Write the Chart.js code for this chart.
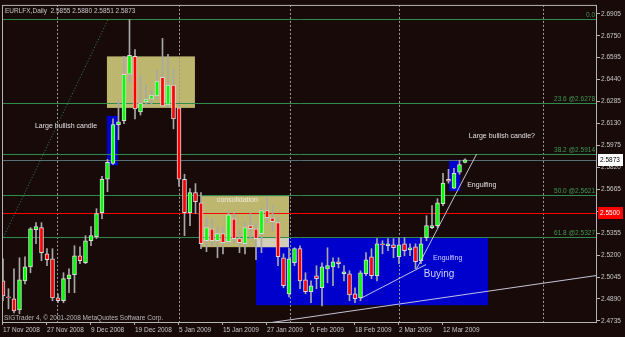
<!DOCTYPE html>
<html>
<head>
<meta charset="utf-8">
<title>EURLFX Daily</title>
<script src="https://cdn.jsdelivr.net/npm/chart.js@4.4.1/dist/chart.umd.min.js"></script>
<style>
  html, body { margin: 0; padding: 0; background: #190a0a; }
  canvas { display: block; }
</style>
</head>
<body>
<canvas id="chart" width="625" height="337"></canvas>
<script>
// ---- Data (bar index 0 = 17 Nov 2008) ----
const xTickIdx = [0, 8, 16, 24, 32, 40, 48, 56, 64, 72, 80];
const xTickLabels = ['17 Nov 2008', '27 Nov 2008', '9 Dec 2008', '19 Dec 2008', '5 Jan 2009',
  '15 Jan 2009', '27 Jan 2009', '6 Feb 2009', '18 Feb 2009', '2 Mar 2009', '12 Mar 2009'];
const yTicks = [2.4735, 2.4890, 2.5045, 2.5200, 2.5355, 2.5510, 2.5665, 2.5820,
  2.5975, 2.6130, 2.6285, 2.6440, 2.6595, 2.6750, 2.6905];

const opens = [
  2.5018, 2.4905, 2.4891, 2.4813, 2.5018, 2.5117, 2.5379, 2.5394, 2.5209, 2.5174,
  2.4898, 2.4877, 2.5033, 2.5061, 2.5195, 2.5146, 2.5301, 2.5330, 2.5500, 2.5736,
  2.5847, 2.6122, 2.6149, 2.6478, 2.6605, 2.6211, 2.6282, 2.6302, 2.6324, 2.6457,
  2.6261, 2.6402, 2.6240, 2.5736, 2.5500, 2.5641, 2.5570, 2.5301, 2.5386, 2.5301,
  2.5351, 2.5294, 2.5457, 2.5316, 2.5280, 2.5408, 2.5386, 2.5351, 2.5514, 2.5464,
  2.5429, 2.5181, 2.4926, 2.5146, 2.5245, 2.5025, 2.4941, 2.5054, 2.4969, 2.5103,
  2.5117, 2.5153, 2.5068, 2.5068, 2.4926, 2.4898, 2.5068, 2.5188, 2.5054, 2.5280,
  2.5266, 2.5273, 2.5188, 2.5280, 2.5238, 2.5259, 2.5160, 2.5323, 2.5394, 2.5408,
  2.5563, 2.5736, 2.5673, 2.5785, 2.5855
];
const highs = [
  2.5174, 2.4962, 2.5103, 2.5181, 2.5188, 2.5394, 2.5429, 2.5429, 2.5245, 2.5245,
  2.4926, 2.5075, 2.5103, 2.5266, 2.5259, 2.5337, 2.5401, 2.5528, 2.5756, 2.5876,
  2.6163, 2.6296, 2.6605, 2.6865, 2.6653, 2.6471, 2.6402, 2.6366, 2.6507, 2.6731,
  2.6619, 2.6514, 2.6247, 2.5771, 2.5670, 2.5705, 2.5641, 2.5464, 2.5457, 2.5401,
  2.5394, 2.5514, 2.5493, 2.5372, 2.5429, 2.5493, 2.5422, 2.5528, 2.5613, 2.5549,
  2.5464, 2.5209, 2.5252, 2.5252, 2.5266, 2.5075, 2.5018, 2.5125, 2.5146, 2.5252,
  2.5181, 2.5181, 2.5125, 2.5089, 2.4969, 2.5089, 2.5217, 2.5245, 2.5316, 2.5301,
  2.5316, 2.5316, 2.5323, 2.5323, 2.5280, 2.5280, 2.5323, 2.5478, 2.5549, 2.5599,
  2.5778, 2.5806, 2.5813, 2.5870, 2.5880
];
const lows = [
  2.4877, 2.4820, 2.4792, 2.4785, 2.4997, 2.5075, 2.5280, 2.5160, 2.5125, 2.4877,
  2.4863, 2.4863, 2.4934, 2.4934, 2.5139, 2.5139, 2.5266, 2.5316, 2.5457, 2.5648,
  2.5840, 2.6015, 2.6128, 2.6422, 2.6163, 2.6190, 2.6261, 2.6268, 2.6302, 2.6247,
  2.6247, 2.6092, 2.5686, 2.5337, 2.5408, 2.5493, 2.5245, 2.5224, 2.5266, 2.5181,
  2.5209, 2.5280, 2.5280, 2.5217, 2.5209, 2.5316, 2.5167, 2.5217, 2.5429, 2.5372,
  2.5125, 2.4969, 2.4905, 2.5125, 2.4962, 2.4926, 2.4863, 2.4962, 2.4841, 2.5004,
  2.4983, 2.5110, 2.5018, 2.4877, 2.4863, 2.4877, 2.5054, 2.5033, 2.5018, 2.5209,
  2.5231, 2.5181, 2.5139, 2.5195, 2.5195, 2.5103, 2.5139, 2.5301, 2.5386, 2.5394,
  2.5549, 2.5708, 2.5670, 2.5771, 2.5851
];
const closes = [
  2.4912, 2.4898, 2.4806, 2.5025, 2.5117, 2.5386, 2.5401, 2.5217, 2.5167, 2.4898,
  2.4877, 2.5033, 2.5061, 2.5195, 2.5160, 2.5301, 2.5337, 2.5493, 2.5736, 2.5855,
  2.6122, 2.6142, 2.6478, 2.6612, 2.6233, 2.6275, 2.6302, 2.6331, 2.6430, 2.6254,
  2.6402, 2.6163, 2.5736, 2.5500, 2.5641, 2.5577, 2.5280, 2.5394, 2.5301, 2.5351,
  2.5287, 2.5485, 2.5316, 2.5287, 2.5394, 2.5386, 2.5316, 2.5514, 2.5464, 2.5436,
  2.5188, 2.4983, 2.5174, 2.5245, 2.5018, 2.4941, 2.4983, 2.5033, 2.5117, 2.5125,
  2.5153, 2.5139, 2.5082, 2.4919, 2.4891, 2.5075, 2.5167, 2.5054, 2.5280, 2.5273,
  2.5280, 2.5252, 2.5273, 2.5231, 2.5252, 2.5153, 2.5280, 2.5408, 2.5408, 2.5570,
  2.5708, 2.5722, 2.5778, 2.5840, 2.5873
];

// ---- Chart objects (bar index / price) ----
const fibLabels = ['0.0', '23.6 @2.6278', '38.2 @2.5914', '50.0 @2.5621', '61.8 @2.5327'];
const fibPrices = [2.6865, 2.6278, 2.5914, 2.5621, 2.5327];
const fibBase = [[-0.4, 2.5287], [19.1, 2.6865]];
const redLevel = 2.5500;
const lastPrice = 2.5873;
const monthSeps = [9.8, 32, 52.2, 72, 98.2];
// zones: [fromBar, toBar, lowPrice, highPrice]
const khakiZones = [[18.9, 34.9, 2.6240, 2.6604], [36.0, 52.0, 2.5256, 2.5617]];
const blueZones = [[18.9, 20.9, 2.5834, 2.6184], [46.0, 88.2, 2.4846, 2.5320], [81.1, 83.15, 2.5652, 2.5873]];
// trend lines: [bar0, price0, bar1, price1]
const trendLines = [[48.2, 2.4720, 108, 2.5056], [65.1, 2.4895, 76.9, 2.5133], [75.2, 2.5103, 86.1, 2.5913]];
const notes = [
  { text: 'Large bullish candle', bar: 5.8, price: 2.6114 },
  { text: 'Large bullish candle?', bar: 84.7, price: 2.6044 },
  { text: 'Engulfing', bar: 84.4, price: 2.5693 },
  { text: 'Engulfing', bar: 78.2, price: 2.5182, tone: 'blue' },
  { text: 'Buying', bar: 76.5, price: 2.5063, tone: 'blue', big: true },
  { text: 'consolidation', bar: 38.9, price: 2.5588, tone: 'khaki' }
];

const BG = '#190a0a';
const FRAME = '#b4b4b4';
const FONT = "'Liberation Sans', Arial, sans-serif";

// ---- Candle datasets ----
const wickData = highs.map((h, i) => ({ x: i, y: [lows[i], h] }));
const bodyData = opens.map((o, i) => ({ x: i, y: [Math.min(o, closes[i]), Math.max(o, closes[i])] }));
const bodyColors = opens.map((o, i) => closes[i] >= o ? '#00ff00' : '#ff0000');

// ---- Drawing of MT4 objects ----
const mt4Objects = {
  id: 'mt4Objects',
  beforeDraw(chart) {
    const { ctx, width, height } = chart;
    ctx.save();
    ctx.fillStyle = BG;
    ctx.fillRect(0, 0, width, height);
    ctx.restore();
  },
  beforeDatasetsDraw(chart) {
    const { ctx, chartArea: a, scales: { x, y } } = chart;
    ctx.save();
    ctx.beginPath();
    ctx.rect(a.left, a.top, a.right - a.left, a.bottom - a.top);
    ctx.clip();

    const zone = (z, col) => {
      const x0 = x.getPixelForValue(z[0]), x1 = x.getPixelForValue(z[1]);
      const y0 = y.getPixelForValue(z[3]), y1 = y.getPixelForValue(z[2]);
      ctx.fillStyle = col;
      ctx.fillRect(x0, y0, x1 - x0, y1 - y0);
    };
    blueZones.forEach(z => zone(z, '#0000cc'));
    khakiZones.forEach(z => zone(z, '#bdb66e'));
    // where the boxes cross MT4 shows a pale mix
    khakiZones.forEach(k => blueZones.forEach(b => {
      const o = [Math.max(k[0], b[0]), Math.min(k[1], b[1]), Math.max(k[2], b[2]), Math.min(k[3], b[3])];
      if (o[0] < o[1] && o[2] < o[3]) zone(o, '#d2cfb8');
    }));

    // month separators
    ctx.strokeStyle = '#9a9a9a';
    ctx.lineWidth = 1;
    ctx.setLineDash([2, 2]);
    monthSeps.forEach(v => {
      const px = Math.round(x.getPixelForValue(v)) + 0.5;
      ctx.beginPath();
      ctx.moveTo(px, a.top);
      ctx.lineTo(px, a.bottom);
      ctx.stroke();
    });
    ctx.setLineDash([]);

    const hline = (p, col) => {
      const py = Math.round(y.getPixelForValue(p)) + 0.5;
      ctx.strokeStyle = col;
      ctx.beginPath();
      ctx.moveTo(a.left, py);
      ctx.lineTo(a.right, py);
      ctx.stroke();
    };
    fibPrices.forEach(p => hline(p, '#2f8a4c'));
    hline(lastPrice, '#56707a');
    hline(redLevel, '#ff0000');

    // fibo base line
    ctx.strokeStyle = '#2f8a4c';
    ctx.setLineDash([1, 2]);
    ctx.beginPath();
    ctx.moveTo(x.getPixelForValue(fibBase[0][0]), y.getPixelForValue(fibBase[0][1]));
    ctx.lineTo(x.getPixelForValue(fibBase[1][0]), y.getPixelForValue(fibBase[1][1]));
    ctx.stroke();
    ctx.setLineDash([]);

    // fibo level labels
    ctx.font = '6.5px ' + FONT;
    ctx.fillStyle = '#3c9a50';
    ctx.textAlign = 'right';
    ctx.textBaseline = 'bottom';
    fibPrices.forEach((p, i) => {
      ctx.fillText(fibLabels[i], a.right - 2, Math.round(y.getPixelForValue(p)) - 1);
    });
    ctx.restore();
  },
  afterDatasetsDraw(chart) {
    const { ctx, chartArea: a, scales: { x, y } } = chart;
    ctx.save();
    ctx.beginPath();
    ctx.rect(a.left, a.top, a.right - a.left, a.bottom - a.top);
    ctx.clip();

    ctx.strokeStyle = 'rgba(215,215,235,0.9)';
    ctx.lineWidth = 1;
    trendLines.forEach(t => {
      ctx.beginPath();
      ctx.moveTo(x.getPixelForValue(t[0]), y.getPixelForValue(t[1]));
      ctx.lineTo(x.getPixelForValue(t[2]), y.getPixelForValue(t[3]));
      ctx.stroke();
    });

    ctx.textAlign = 'left';
    ctx.textBaseline = 'middle';
    notes.forEach(n => {
      ctx.font = (n.big ? '10px ' : '7px ') + FONT;
      ctx.fillStyle = n.tone === 'blue' ? '#d0d0ff' : n.tone === 'khaki' ? '#efeadb' : '#e0e0e0';
      ctx.fillText(n.text, x.getPixelForValue(n.bar), y.getPixelForValue(n.price));
    });

    ctx.font = '6.5px ' + FONT;
    ctx.fillStyle = '#b8b8b8';
    ctx.fillText('SIGTrader 4, \u00a9 2001-2008 MetaQuotes Software Corp.', a.left + 2, a.bottom - 4);
    ctx.fillStyle = '#c8c8c8';
    ctx.fillText('EURLFX,Daily  ' + [opens[84], highs[84], lows[84], closes[84]].map(v => v.toFixed(4)).join(' '),
      a.left + 3, a.top + 6);
    ctx.restore();

    // frame
    ctx.save();
    ctx.strokeStyle = FRAME;
    ctx.lineWidth = 1;
    ctx.strokeRect(a.left + 0.5, a.top + 0.5, a.right - a.left - 1, a.bottom - a.top);
    ctx.restore();
  },
  afterDraw(chart) {
    const { ctx, chartArea: a, scales: { y } } = chart;
    const tag = (p, bg, fg) => {
      const py = Math.round(y.getPixelForValue(p));
      ctx.fillStyle = bg;
      ctx.fillRect(a.right + 1, py - 6, 25, 12);
      ctx.fillStyle = fg;
      ctx.font = '6.5px ' + FONT;
      ctx.textAlign = 'left';
      ctx.textBaseline = 'middle';
      ctx.fillText(p.toFixed(4), a.right + 3, py + 0.5);
    };
    ctx.save();
    tag(redLevel, '#ff0000', '#ffffff');
    tag(lastPrice, '#ffffff', '#000000');
    ctx.restore();
  }
};

Chart.defaults.font.family = FONT;
Chart.defaults.font.size = 6.5;
Chart.defaults.color = '#c8c8c8';

new Chart(document.getElementById('chart'), {
  type: 'bar',
  data: {
    datasets: [
      {
        data: wickData,
        backgroundColor: '#a8a8a8',
        barThickness: 1,
        grouped: false,
        order: 2
      },
      {
        data: bodyData,
        backgroundColor: bodyColors,
        borderColor: '#dcdcdc',
        borderWidth: 1,
        borderSkipped: false,
        barThickness: 4,
        grouped: false,
        order: 1
      }
    ]
  },
  options: {
    responsive: false,
    animation: false,
    devicePixelRatio: 1,
    layout: { padding: { left: 2, top: 2, right: 0, bottom: 0 } },
    plugins: { legend: { display: false }, tooltip: { enabled: false } },
    scales: {
      x: {
        type: 'linear',
        min: -0.18,
        max: 108,
        offset: false,
        grid: { drawOnChartArea: false, offset: false, color: FRAME, tickLength: 3 },
        border: { display: false },
        ticks: {
          align: 'start', autoSkip: false, maxRotation: 0, padding: 1,
          callback: (v, i) => xTickLabels[i]
        },
        afterBuildTicks: s => { s.ticks = xTickIdx.map(v => ({ value: v })); },
        afterFit: s => { s.height = 15; }
      },
      y: {
        position: 'right',
        min: 2.4727,
        max: 2.6968,
        grid: { drawOnChartArea: false, color: FRAME, tickLength: 3 },
        border: { display: false },
        ticks: { autoSkip: false, padding: 1, callback: v => v.toFixed(4) },
        afterBuildTicks: s => { s.ticks = yTicks.map(v => ({ value: v })); },
        afterFit: s => { s.width = 28; }
      }
    }
  },
  plugins: [mt4Objects]
});
</script>
</body>
</html>
